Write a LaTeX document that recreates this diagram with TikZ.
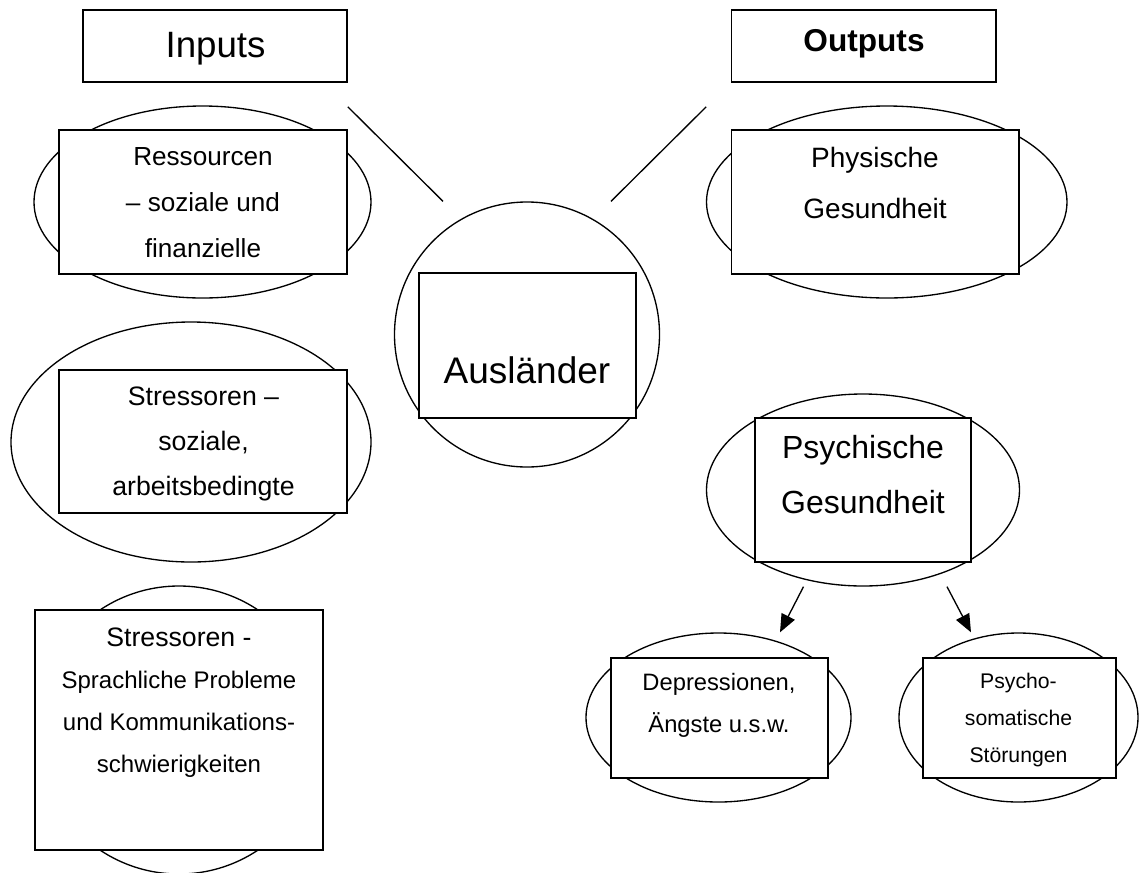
\documentclass[tikz,border=0pt]{standalone}
\usepackage{fontspec}
\setmainfont{Liberation Sans}
\usetikzlibrary{shapes.geometric,arrows.meta,calc}
% centred multi-line text whose baseline is that of its first line
\newcommand\cellstack[1]{\begin{tabular}[t]{@{}c@{}}#1\end{tabular}}
\begin{document}
\begin{tikzpicture}[x=0.75pt,y=-0.75pt,
  sz/.style 2 args={minimum width=0.75pt*#1,minimum height=0.75pt*#2},
  oval/.style={ellipse,draw,line width=1pt,inner sep=0pt},
  ring/.style={circle,draw,line width=1pt,inner sep=0pt},
  card/.style={rectangle,draw,fill=white,line width=1.3pt,inner sep=0pt},
  txt/.style={anchor=base,inner sep=0pt},
  conn/.style={line width=1pt},
  arr/.style={line width=1pt,-{Triangle[length=13.5pt,width=11pt]}}]
\useasboundingbox (0,0) rectangle (1139,872);

% ---- ovals behind the boxes
\node[oval,sz={337}{192}] (ressEll) at (202.5,202) {};
\node[oval,sz={360}{240}] (strEll) at (191,442) {};
\node[oval,sz={286}{288}] (sprEll) at (179,730) {};
\node[ring,minimum size=0.75pt*265] (auslEll) at (527,334.5) {};
\node[oval,sz={360.5}{192}] (physEll) at (886.75,202) {};
\node[oval,sz={313}{192}] (psyEll) at (863,490) {};
\node[oval,sz={265}{169}] (depEll) at (718.5,717.5) {};
\node[oval,sz={239}{169}] (psoEll) at (1018.5,717.5) {};

% ---- boxes
\node[card,sz={264}{72}] (inputs) at (215,46) {};
\node[card,sz={264.5}{72}] (outputs) at (863.75,46) {};
\node[card,sz={288}{144}] (ressBox) at (203,202) {};
\node[card,sz={288}{143}] (strBox) at (203,441.5) {};
\node[card,sz={288}{240}] (sprBox) at (179,730) {};
\node[card,sz={217}{145}] (auslBox) at (527.5,345.5) {};
\node[card,sz={287.5}{144}] (physBox) at (875.25,202) {};
\node[card,sz={216.7}{144}] (psyBox) at (863,490) {};
\node[card,sz={217}{120}] (depBox) at (719.5,718) {};
\node[card,sz={193}{120}] (psoBox) at (1019.5,718) {};

% ---- texts
\node[txt,font=\fontsize{27.5}{33}\selectfont] (inputsTxt) at (215.5,57) {Inputs};
\node[txt,font=\bfseries\fontsize{23.7}{28}\selectfont] (outputsTxt) at (864,51.7) {Outputs};
\node[txt,font=\fontsize{19.6}{34.5}\selectfont] (ressTxt) at (203,165)
  {\cellstack{Ressourcen\\– soziale und\\finanzielle}};
\node[txt,font=\fontsize{20}{34.1}\selectfont] (strTxt) at (203.5,405)
  {\cellstack{Stressoren –\\soziale,\\arbeitsbedingte}};
\node[txt,font=\fontsize{18}{31.7}\selectfont] (sprTxt) at (179,646)
  {\cellstack{{\fontsize{20}{31.7}\selectfont Stressoren -}\\Sprachliche Probleme\\und Kommunikations-\\schwierigkeiten}};
\node[txt,font=\fontsize{27.75}{33}\selectfont] (auslTxt) at (527,383) {Ausländer};
\node[txt,font=\fontsize{21}{38.7}\selectfont] (physTxt) at (875,167)
  {\cellstack{Physische\\Gesundheit}};
\node[txt,font=\fontsize{24}{41.25}\selectfont] (psyTxt) at (863,458.3)
  {\cellstack{Psychische\\Gesundheit}};
\node[txt,font=\fontsize{17.8}{31.5}\selectfont] (depTxt) at (719,690)
  {\cellstack{Depressionen,\\Ängste u.s.w.}};
\node[txt,font=\fontsize{15.9}{27.75}\selectfont] (psoTxt) at (1018.5,688)
  {\cellstack{Psycho-\\somatische\\Störungen}};

% ---- connectors
\draw[conn] ($(inputs.south east)+(0,24)$) -- ($(auslEll.north)+(-84,0)$);
\draw[conn] ($(outputs.south west)+(-24.5,24)$) -- ($(auslEll.north)+(84,0)$);
\draw[arr] ($(psyEll.south)+(-59.5,0)$) -- ($(depEll.north)+(61.5,0)$);
\draw[arr] ($(psyEll.south)+(84,0)$) -- ($(psoEll.north)+(-47.5,0)$);
\end{tikzpicture}
\end{document}
